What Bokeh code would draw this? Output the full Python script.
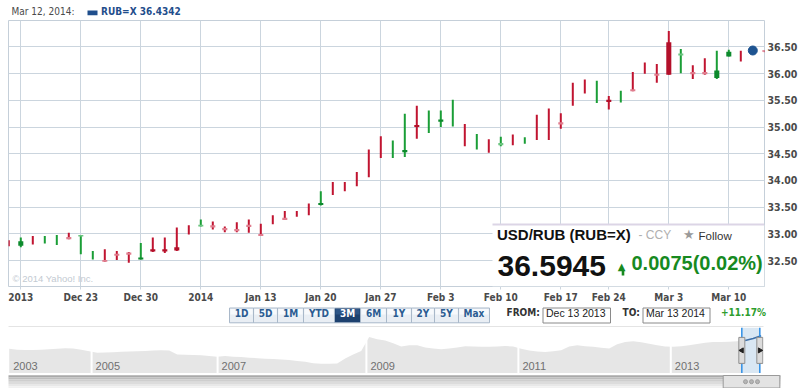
import math
from datetime import date
from bokeh.plotting import figure
from bokeh.models import Range1d, FixedTicker, NumeralTickFormatter, Label, BoxAnnotation, Plot
from bokeh.layouts import column
from bokeh.embed import file_html
from bokeh.resources import INLINE

# ---------------- data ----------------
symbol = "RUB=X"
pair_name = "USD/RUB (RUB=X)"
dates = [
    "2013-12-13",
    "2013-12-16", "2013-12-17", "2013-12-18", "2013-12-19", "2013-12-20",
    "2013-12-23", "2013-12-24", "2013-12-25", "2013-12-26", "2013-12-27",
    "2013-12-30", "2013-12-31", "2014-01-01", "2014-01-02", "2014-01-03",
    "2014-01-06", "2014-01-07", "2014-01-08", "2014-01-09", "2014-01-10",
    "2014-01-13", "2014-01-14", "2014-01-15", "2014-01-16", "2014-01-17",
    "2014-01-20", "2014-01-21", "2014-01-22", "2014-01-23", "2014-01-24",
    "2014-01-27", "2014-01-28", "2014-01-29", "2014-01-30", "2014-01-31",
    "2014-02-03", "2014-02-04", "2014-02-05", "2014-02-06", "2014-02-07",
    "2014-02-10", "2014-02-11", "2014-02-12", "2014-02-13", "2014-02-14",
    "2014-02-18", "2014-02-19", "2014-02-20", "2014-02-21",
    "2014-02-24", "2014-02-25", "2014-02-26", "2014-02-27", "2014-02-28",
    "2014-03-03", "2014-03-04", "2014-03-05", "2014-03-06", "2014-03-07",
    "2014-03-10", "2014-03-11", "2014-03-12", "2014-03-13",
]
high = [32.88, 32.93, 32.96, 32.96, 32.98, 33.02, 32.98, 32.68, 32.71, 32.68,
        32.66, 32.83, 32.93, 32.93, 33.12, 33.16, 33.27, 33.23, 33.14, 33.22,
        33.27, 33.19, 33.35, 33.43, 33.43, 33.57, 33.80, 33.97, 33.97, 34.16,
        34.58, 34.83, 34.75, 35.25, 35.40, 35.31, 35.31, 35.51, 35.06, 34.87,
        34.77, 34.82, 34.86, 34.81, 35.23, 35.35, 35.26, 35.83, 35.89, 35.87,
        35.58, 35.68, 36.03, 36.21, 36.18, 36.80, 36.46, 36.16, 36.29, 36.43,
        36.45, 36.43, 36.46, 36.44]
low = [32.77, 32.75, 32.80, 32.82, 32.79, 32.90, 32.62, 32.52, 32.48, 32.51,
       32.46, 32.52, 32.66, 32.64, 32.68, 32.99, 33.14, 33.08, 33.03, 33.03,
       33.02, 32.96, 33.18, 33.27, 33.32, 33.35, 33.53, 33.73, 33.80, 33.89,
       34.06, 34.42, 34.42, 34.44, 34.78, 34.89, 35.00, 35.01, 34.64, 34.58,
       34.52, 34.64, 34.66, 34.69, 34.76, 34.76, 34.97, 35.40, 35.63, 35.45,
       35.33, 35.46, 35.67, 36.00, 35.83, 35.98, 36.01, 35.90, 35.98, 35.90,
       36.32, 36.23, 36.43, 36.40]
# True = closed above the previous close (green candle)
change_up = [False, True, False, True, True, False, True, True, False, False,
             False, True, False, False, False, False, True, False, False, False,
             False, False, False, False, False, False, True, False, False, False,
             False, False, True, True, False, True, True, True, False, True,
             False, True, False, True, False, False, False, False, False, True,
             False, True, False, False, False, False, True, False, False, True,
             True, False, False, False]
N = None
open_ = [N, 32.86, N, N, N, 32.90, 32.95, N, 32.48, 32.59,
         32.61, 32.56, 32.71, 32.71, 32.75, N, 33.14, 33.12, 33.07, 33.05,
         33.13, 32.96, N, 33.26, N, N, 33.58, N, N, N,
         N, N, N, 34.57, 35.04, N, 35.14, N, N, N,
         N, 34.66, N, N, N, N, 35.05, N, N, N,
         35.51, N, 35.67, N, 35.96, 36.59, 36.34, 35.99, 35.99, 36.06,
         36.41, N, N, 36.41]
close = [N, 32.78, N, N, N, 32.94, 32.98, N, 32.51, 32.63,
         32.65, 32.52, 32.67, 32.67, 32.69, N, 33.17, 33.16, 33.11, 33.09,
         33.17, 33.00, N, 33.30, N, N, 33.54, N, N, N,
         N, N, N, 34.53, 35.00, N, 35.10, N, N, N,
         N, 34.70, N, N, N, N, 35.09, N, N, N,
         35.47, N, 35.71, N, 36.00, 35.98, 36.38, 36.03, 36.03, 35.92,
         36.32, N, N, 36.44]
last_date = "2014-03-12"
last_date_label = "Mar 12, 2014"
last_value = 36.4342
quote = 36.5945
quote_change = 0.0075
quote_change_pct = 0.02
range_change_pct = 11.17
range_from = "Dec 13 2013"
range_to = "Mar 13 2014"
x_tick_dates = ["2013-12-16", "2013-12-23", "2013-12-30", "2014-01-06", "2014-01-13",
                "2014-01-20", "2014-01-27", "2014-02-03", "2014-02-10", "2014-02-17",
                "2014-02-24", "2014-03-03", "2014-03-10"]
x_tick_labels = ["2013", "Dec 23", "Dec 30", "2014", "Jan 13", "Jan 20", "Jan 27",
                 "Feb 3", "Feb 10", "Feb 17", "Feb 24", "Mar 3", "Mar 10"]
y_ticks = [32.5, 33.0, 33.5, 34.0, 34.5, 35.0, 35.5, 36.0, 36.5]
range_buttons = ["1D", "5D", "1M", "YTD", "3M", "6M", "1Y", "2Y", "5Y", "Max"]
selected_button = "3M"

# navigator (long history, sampled evenly across the strip)
nav_values = [30.7, 30.2, 30.1, 30.1, 30.2, 30.4, 30.7, 30.9, 30.8, 30.2,
              29.5, 28.8, 28.9, 29.0, 29.2, 29.4, 29.5, 29.6, 29.9, 30.0,
              29.8, 27.9, 27.8, 27.7, 27.6, 27.2, 26.9, 27.2, 26.9, 26.7,
              26.4, 26.2, 25.9, 25.8, 25.6, 25.3, 24.9, 24.5, 23.8, 23.5,
              23.5, 23.7, 26.0, 27.9, 29.6, 36.3, 35.2, 34.6, 33.3, 31.7,
              32.4, 32.3, 31.3, 30.8, 30.4, 30.8, 31.3, 31.9, 31.8, 31.6,
              31.6, 31.7, 32.0, 31.7, 30.7, 29.9, 29.4, 29.1, 29.5, 30.0,
              31.8, 32.4, 31.9, 31.6, 31.2, 30.8, 32.8, 33.9, 34.3, 33.8,
              33.1, 32.3, 31.8, 31.6, 31.9, 32.4, 33.0, 33.5, 33.9, 33.9,
              34.0, 34.3, 34.6, 35.6, 36.9]
nav_years = ["2003", "2005", "2007", "2009", "2011", "2013"]
nav_year_start = [0.0, 10.3, 26.05, 44.65, 63.65, 82.7]
nav_selection = (91.58, 93.83)

# ---------------- style ----------------
FONT_C = "DejaVu Sans Condensed"
FONT_A = "Liberation Sans"
RED, RED_DARK, RED_LIGHT = "#c01430", "#b3102a", "#e07d8e"
GREEN, GREEN_DARK, GREEN_LIGHT = "#1a9e36", "#0d8a2d", "#6cc581"
UP_GREEN = "#178a1f"
BLUE = "#1f4e8c"
GRID = "#cbd5de"
W = 799
NO_ALIGN = {"frame_align": False} if "frame_align" in Plot.properties() else {}


def strip(height):
    f = figure(frame_width=W, frame_height=height, x_range=Range1d(0, W),
               y_range=Range1d(height, 0), x_axis_location=None, y_axis_location=None,
               min_border=0, min_border_left=0, min_border_right=0, min_border_top=0,
               min_border_bottom=0, output_backend="svg", toolbar_location=None,
               outline_line_color=None, background_fill_color="white",
               border_fill_color="white", **NO_ALIGN)
    f.grid.visible = False
    return f


def lab(fig, x, y, text, **kw):
    fig.add_layout(Label(x=x, y=y, text=text, **kw))


# ---------------- header strip ----------------
HD_H = 20
hd = strip(HD_H)
lab(hd, 11, 16, last_date_label + ":", text_font=FONT_C, text_font_size="10px",
    text_color="#4a4a4a")
hd.quad(left=[87], right=[97], top=[10], bottom=[14.7], fill_color=BLUE, line_color=None)
lab(hd, 100.5, 16, f"{symbol} {last_value:.4f}", text_font=FONT_C, text_font_size="10px",
    text_font_style="bold", text_color=BLUE)

# ---------------- main chart ----------------
PX_DAY = 12.0
X0 = -0.025
FRAME_L, FRAME_T = 8, 20
FRAME_W, FRAME_H = 756, 266
X1 = X0 + FRAME_W / PX_DAY
Y1 = 36.996
PX_UNIT = 53.4
Y0 = Y1 - FRAME_H / PX_UNIT


def dx(px):
    return X0 + (px - FRAME_L) / PX_DAY


def dy(py):
    return Y1 - (py - FRAME_T) / PX_UNIT


p = figure(frame_width=FRAME_W, frame_height=FRAME_H,
           x_range=Range1d(X0, X1), y_range=Range1d(Y0, Y1),
           y_axis_location="right", output_backend="svg", toolbar_location=None,
           min_border_left=FRAME_L, min_border_right=W - FRAME_L - FRAME_W,
           min_border_top=FRAME_T - HD_H, min_border_bottom=19,
           background_fill_color="white", border_fill_color="white",
           outline_line_color="#c5cfd9", **NO_ALIGN)

xs = list(range(len(dates)))
day_objs = [date.fromisoformat(d) for d in dates]
tick_idx = []
for td in x_tick_dates:
    t = date.fromisoformat(td)
    tick_idx.append(next(i for i, d in enumerate(day_objs) if d >= t))

p.xaxis.ticker = FixedTicker(ticks=tick_idx)
p.xaxis.major_label_overrides = {i: t for i, t in zip(tick_idx, x_tick_labels)}
p.yaxis.ticker = FixedTicker(ticks=y_ticks)
p.yaxis.formatter = NumeralTickFormatter(format="0.00")
p.xgrid.ticker = FixedTicker(ticks=tick_idx)
p.ygrid.ticker = FixedTicker(ticks=y_ticks)
p.grid.grid_line_color = GRID
p.grid.grid_line_width = 1
for ax in (p.xaxis, p.yaxis):
    ax.axis_line_color = None
    ax.major_label_text_font = FONT_C
    ax.major_label_text_font_size = "10px"
    ax.major_label_text_font_style = "bold"
    ax.major_label_text_color = "#4a4a4a"
    ax.minor_tick_line_color = None
    ax.minor_tick_out = 0
    ax.minor_tick_in = 0
p.xaxis.major_tick_line_color = GRID
p.xaxis.major_tick_out = 3
p.xaxis.major_tick_in = 0
p.xaxis.major_label_standoff = 2
p.yaxis.major_tick_line_color = None
p.yaxis.major_tick_out = 0
p.yaxis.major_tick_in = 0
p.yaxis.major_label_standoff = 3
p.yaxis.major_label_text_font_size = "10.5px"

# candles
wick_col = [GREEN if u else RED for u in change_up]
p.segment(x0=xs, y0=low, x1=xs, y1=high, line_color=wick_col, line_width=2)
bx, btop, bbot, bcol = [], [], [], []
for i in xs:
    if open_[i] is None:
        continue
    o, c = open_[i], close[i]
    filled = c < o
    if change_up[i]:
        col = GREEN_DARK if filled else GREEN_LIGHT
    else:
        col = RED_DARK if filled else RED_LIGHT
    bx.append(i)
    btop.append(max(o, c))
    bbot.append(min(o, c))
    bcol.append(col)
p.vbar(x=bx, top=btop, bottom=bbot, width=0.42, fill_color=bcol, line_color=None)
li = dates.index(last_date)
p.scatter(x=[li], y=[last_value], size=9, fill_color="#1e5491", line_color="#1e5491")

# copyright
lab(p, dx(12), dy(283.5), "\u00a9 2014 Yahoo! Inc.", text_font=FONT_A,
    text_font_size="9.5px", text_color="#c3cad2")

# quote box
p.add_layout(BoxAnnotation(left=dx(492), top=dy(224.5), fill_color="white", fill_alpha=1,
                           line_color=None))
p.add_layout(BoxAnnotation(left=dx(492), top=dy(223), bottom=dy(225), fill_color="#dcd5e6",
                           fill_alpha=1, line_color=None))
lab(p, dx(496.5), dy(242.7), pair_name, text_font=FONT_A, text_font_size="15px",
    text_font_style="bold", text_color="#111111")
lab(p, dx(638), dy(241.7), "- CCY", text_font=FONT_A, text_font_size="12px",
    text_color="#b0b0b0")
lab(p, dx(682.5), dy(241.5), "\u2605", text_font="DejaVu Sans", text_font_size="13px",
    text_color="#9a9a9a")
lab(p, dx(698), dy(241.7), "Follow", text_font=FONT_A, text_font_size="11.5px",
    text_color="#333333")
lab(p, dx(497), dy(275), f"{quote:.4f}", text_font=FONT_A, text_font_size="30px",
    text_font_style="bold", text_color="#111111")
# up arrow: head + stem
lab(p, dx(617.3), dy(271.5), "\u25b2", text_font="DejaVu Sans", text_font_size="10px",
    text_color=UP_GREEN)
p.add_layout(BoxAnnotation(left=dx(621.2), right=dx(623.8), top=dy(269.5), bottom=dy(275),
                           fill_color=UP_GREEN, fill_alpha=1, line_color=None))
lab(p, dx(631), dy(273.5), f"{quote_change:.4f}({quote_change_pct:.2f}%)", text_font=FONT_A,
    text_font_size="20px", text_font_style="bold", text_color=UP_GREEN)

# ---------------- control strip ----------------
SB_T, SB_H = 305, 22
sb = strip(SB_H)


def ly(py):
    return py - SB_T


btn_w = [24, 24, 26, 31, 26, 26, 25, 23, 24, 31]
lefts, rights = [], []
edge = 229
for wdt in btn_w:
    lefts.append(edge)
    rights.append(edge + wdt)
    edge += wdt
sel = [b == selected_button for b in range_buttons]
sb.quad(left=lefts, right=rights, top=ly(307.5), bottom=ly(322.3),
        fill_color=["#1d416f" if s else "#e9eef4" for s in sel], line_color="#a9b8c9",
        line_width=1)
sb.quad(left=[l + 1 for l in lefts], right=[r - 1 for r in rights], top=ly(308.5),
        bottom=ly(314), fill_color=["#2c5486" if s else "#f7f9fc" for s in sel],
        line_color=None)
for b, l, r, s in zip(range_buttons, lefts, rights, sel):
    lab(sb, (l + r) / 2, ly(318), b, text_align="center", text_font=FONT_C,
        text_font_size="10px", text_font_style="bold",
        text_color="white" if s else "#2b5c92")
lab(sb, 506, ly(317.5), "FROM:", text_font=FONT_C, text_font_size="10px",
    text_font_style="bold", text_color="#333333")
lab(sb, 622, ly(317.5), "TO:", text_font=FONT_C, text_font_size="10px",
    text_font_style="bold", text_color="#333333")
sb.quad(left=[542.5, 642.5], right=[610, 709.5], top=ly(307.5),
        bottom=ly(322.5), fill_color="white", line_color="#8a8a8a", line_width=1)
lab(sb, 545.5, ly(318.3), range_from, text_font=FONT_A, text_font_size="10.5px",
    text_color="#222222")
lab(sb, 645.5, ly(318.3), range_to, text_font=FONT_A, text_font_size="10.5px",
    text_color="#222222")
lab(sb, 720.5, ly(317.5), f"+{range_change_pct:.2f}%", text_font=FONT_C,
    text_font_size="10px", text_font_style="bold", text_color="#2e9e2e")
sb.segment(x0=[8], y0=[ly(326.5)], x1=[763], y1=[ly(326.5)],
           line_color="#c9c9c9", line_width=1)

# ---------------- navigator ----------------
NV_L, NV_W, NV_H = 8, 755, 46
NY0, NY1 = 18.9, 40.8
NV_PX = (NY1 - NY0) / NV_H
nv = figure(frame_width=NV_W, frame_height=NV_H, x_range=Range1d(-0.0875, 94.29),
            y_range=Range1d(NY0, NY1), x_axis_location=None, y_axis_location=None,
            min_border_left=NV_L, min_border_right=W - NV_L - NV_W, min_border_top=0,
            min_border_bottom=0, output_backend="svg", toolbar_location=None,
            outline_line_color=None, background_fill_color="white",
            border_fill_color="white", **NO_ALIGN)
nv.grid.visible = False
nk = list(range(len(nav_values)))
s0, s1 = nav_selection
area_k = [k for k in nk if k <= s0 + 0.5]
nv.varea(x=area_k, y1=NY0, y2=[nav_values[k] for k in area_k], fill_color="#e6e6e6")
sep = nav_year_start[1:]
nv.segment(x0=sep, y0=NY0, x1=sep, y1=NY1, line_color="white", line_width=2)
nv.quad(left=[s0], right=[s1], bottom=NY0, top=NY1, fill_color="#d9e7f3", line_color=None)
sel_k = [k for k in nk if k >= s0]
nv.line(x=sel_k, y=[nav_values[k] for k in sel_k], line_color="#3d6fa8", line_width=1.5)
nv.segment(x0=[s0, s1], y0=NY0, x1=[s0, s1], y1=NY1, line_color="#2e8fe6", line_width=1.5)
ny_mid = NY1 - (349.9 - 327) * NV_PX
nv.rect(x=[s0, s1], y=ny_mid, width=6, height=26, width_units="screen",
        height_units="screen", fill_color="#dcdcdc", line_color="#8f8f8f")
nv.scatter(x=[s0, s1], y=ny_mid, marker="triangle", size=5,
           angle=[math.pi / 2, -math.pi / 2], fill_color="#222222", line_color="#222222")
for yr, xk in zip(nav_years, nav_year_start):
    lab(nv, xk, NY0 + 4.0 * NV_PX, yr, x_offset=4, text_font=FONT_A,
        text_font_size="11px", text_color="#707070")

# ---------------- scrollbar strip ----------------
SC_H = 15
sc = strip(SC_H)
band_top = [1.7, 3.9, 6.1, 8.3, 10.5, 12.7]
band_bot = [3.9, 6.1, 8.3, 10.5, 12.7, 15.0]
sc.quad(left=8, right=780, top=band_top, bottom=band_bot,
        fill_color=["#a9a9a9", "#bdbdbd", "#cecece", "#dcdcdc", "#e8e8e8", "#f1f1f1"],
        line_color=None)
sc.quad(left=[722.7], right=[779.3], top=[2.0], bottom=[14.5], fill_color="#e3e3e3",
        line_color="#9a9a9a")
sc.scatter(x=[745, 751, 757], y=8.2, size=4, marker="circle", fill_color="#b5b5b5",
           line_color="#9e9e9e")

layout = column(hd, p, sb, nv, sc, spacing=0)
open("out.html", "w").write(file_html(layout, INLINE))
